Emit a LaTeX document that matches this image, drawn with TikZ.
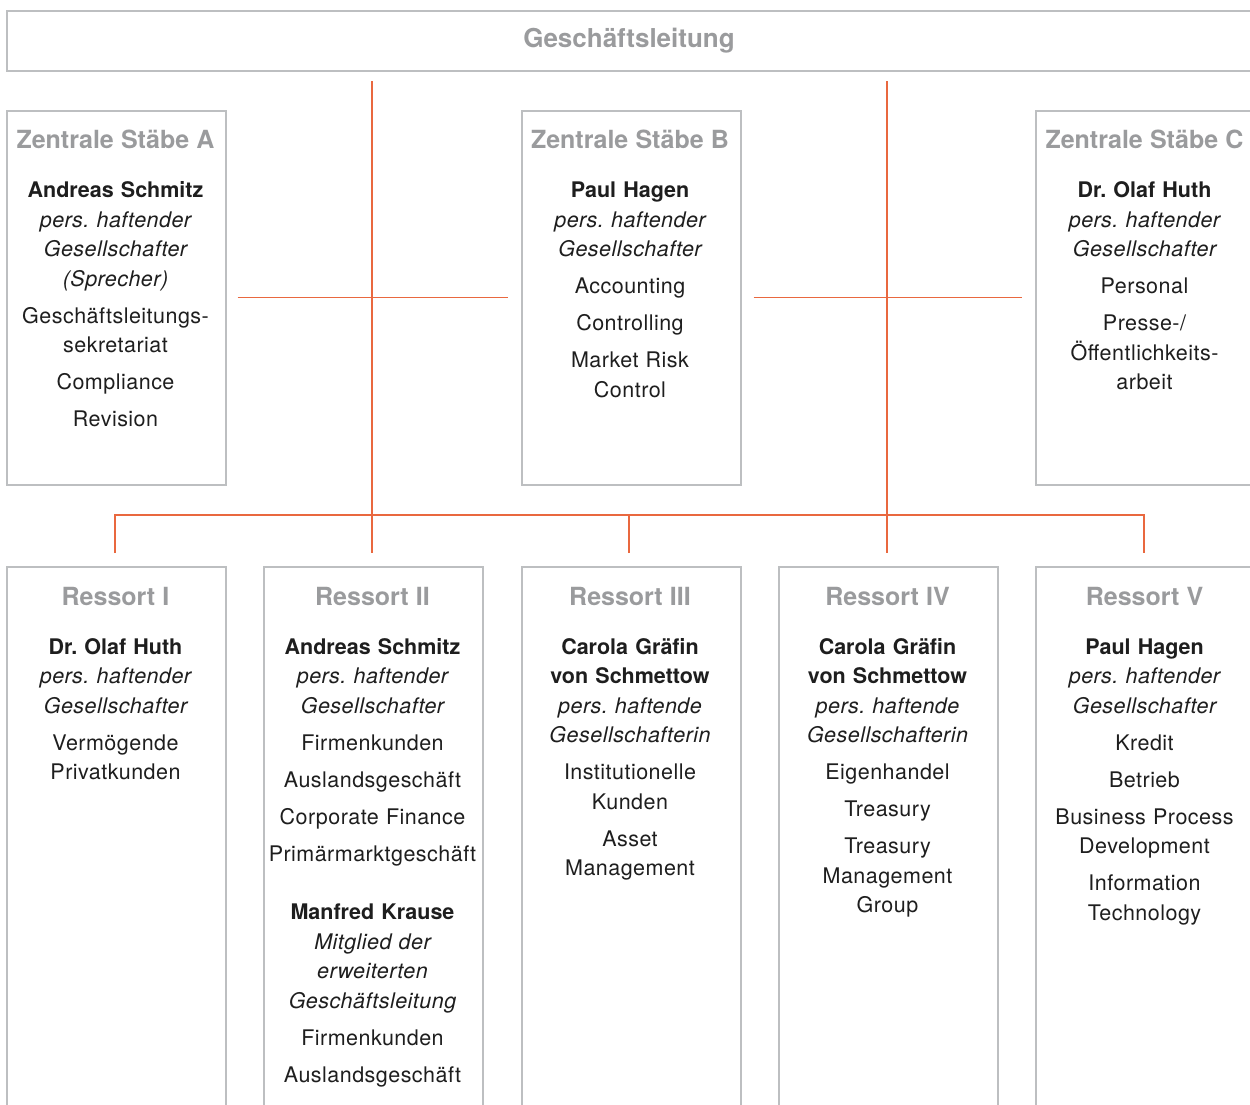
\documentclass[tikz,border=0pt]{standalone}
\usepackage{fontspec}
\setmainfont{TeX Gyre Heros}[LetterSpace = 2.2, BoldFeatures = {LetterSpace = 0}]
\usepackage{tikz}
\usetikzlibrary{positioning}
\frenchspacing
\definecolor{framegray}{HTML}{BDBFC1}
\definecolor{titlegray}{HTML}{9A9B9D}
\definecolor{linkorange}{HTML}{E9683F}
\definecolor{textdark}{HTML}{1E1E1E}
\tikzset{
frame box/.style = { rectangle, draw = framegray, line width = 1.5pt, fill = white, inner sep = 0pt, minimum width = 219pt },
box text/.style = { anchor = north, align = center, text width = 215pt, inner sep = 0pt, text = textdark, font = \fontsize{21.5}{29.5}\selectfont },
link/.style = { draw = linkorange, line width = 1.2pt },
}
\newcommand{\boxtitle}[1]{{\fontsize{25}{29.5}\selectfont\bfseries\color{titlegray}#1}}
\newcommand{\who}[1]{{\bfseries #1}}
\newcommand{\role}[1]{{\itshape #1}}

\begin{document}
\begin{tikzpicture}[x = 1pt, y = -1pt]
      \path[use as bounding box] (0, 0) rectangle (1250, 1104);
      \clip (0, 0) rectangle (1250, 1104);
      % Geschaeftsleitung
      \node[frame box, minimum width = 1250pt, minimum height = 60pt, anchor = north west] (gl) at (6, 10) {};
      \node[font = \fontsize{26}{30}\selectfont\bfseries, text = titlegray, inner sep = 0pt] (gl title) at (629, 41) {Geschäftsleitung};
      % Zentrale Staebe
      \node[frame box, minimum height = 374pt, anchor = north west] (zsa) at (6, 110) {};
      \node[frame box, minimum height = 374pt, anchor = north west] (zsb) at (521, 110) {};
      \node[frame box, minimum height = 374pt, anchor = north west] (zsc) at (1035, 110) {};
      % Ressorts
      \node[frame box, minimum height = 560pt, anchor = north west] (r1) at (6, 566) {};
      \node[frame box, minimum height = 560pt, anchor = north west] (r2) at (263, 566) {};
      \node[frame box, minimum height = 560pt, anchor = north west] (r3) at (521, 566) {};
      \node[frame box, minimum height = 560pt, anchor = north west] (r4) at (778, 566) {};
      \node[frame box, minimum height = 560pt, anchor = north west] (r5) at (1035, 566) {};
      % orange lines
      \coordinate (split l) at (372, 81);
      \coordinate (split r) at (887, 81);
      \coordinate (drop i) at (115, 553);
      \coordinate (drop ii) at (372, 553);
      \coordinate (drop iii) at (629, 553);
      \coordinate (drop iv) at (887, 553);
      \coordinate (drop v) at (1144, 553);
      \draw[link] (split l) -- (drop ii);
      \draw[link] (split r) -- (drop iv);
      \draw[link] ([xshift = 11pt]zsa.east) -- ([xshift = -13pt]zsb.west);
      \draw[link] ([xshift = 12pt]zsb.east) -- ([xshift = -13pt]zsc.west);
      \draw[link] (drop i) -- (drop i |- 0, 515) -- (drop v |- 0, 515) -- (drop v);
      \draw[link] (drop iii) -- (drop iii |- 0, 515);
      % texts
      \node[box text] (zsa text) at (115.5, 130) {\boxtitle{Zentrale Stäbe A}\\[19.5pt]
            \who{Andreas Schmitz}\\ \role{pers. haftender}\\ \role{Gesellschafter}\\ \role{(Sprecher)}\\[7.5pt]
            Geschäftsleitungs-\\ sekretariat\\[7.5pt] Compliance\\[7.5pt] Revision};
      \node[box text] (zsb text) at (630, 130) {\boxtitle{Zentrale Stäbe B}\\[19.5pt]
            \who{Paul Hagen}\\ \role{pers. haftender}\\ \role{Gesellschafter}\\[7.5pt]
            Accounting\\[7.5pt] Controlling\\[7.5pt] Market Risk\\ Control};
      \node[box text] (zsc text) at (1144.5, 130) {\boxtitle{Zentrale Stäbe C}\\[19.5pt]
            \who{Dr. Olaf Huth}\\ \role{pers. haftender}\\ \role{Gesellschafter}\\[7.5pt]
            Personal\\[7.5pt] Presse-/\\ Öffentlichkeits-\\ arbeit};
      \node[box text] (r1 text) at (115.5, 587) {\boxtitle{Ressort I}\\[19.5pt]
            \who{Dr. Olaf Huth}\\ \role{pers. haftender}\\ \role{Gesellschafter}\\[7.5pt]
            Vermögende\\ Privatkunden};
      \node[box text] (r2 text) at (372.5, 587) {\boxtitle{Ressort II}\\[19.5pt]
            \who{Andreas Schmitz}\\ \role{pers. haftender}\\ \role{Gesellschafter}\\[7.5pt]
            Firmenkunden\\[7.5pt] Auslandsgeschäft\\[7.5pt] Corporate Finance\\[7.5pt] Primärmarktgeschäft\\[29pt]
            \who{Manfred Krause}\\ \role{Mitglied der}\\ \role{erweiterten}\\ \role{Geschäftsleitung}\\[7.5pt]
            Firmenkunden\\[7.5pt] Auslandsgeschäft};
      \node[box text] (r3 text) at (630, 587) {\boxtitle{Ressort III}\\[19.5pt]
            \who{Carola Gräfin}\\ \who{von Schmettow}\\ \role{pers. haftende}\\ \role{Gesellschafterin}\\[7.5pt]
            Institutionelle\\ Kunden\\[7.5pt] Asset\\ Management};
      \node[box text] (r4 text) at (887.5, 587) {\boxtitle{Ressort IV}\\[19.5pt]
            \who{Carola Gräfin}\\ \who{von Schmettow}\\ \role{pers. haftende}\\ \role{Gesellschafterin}\\[7.5pt]
            Eigenhandel\\[7.5pt] Treasury\\[7.5pt] Treasury\\ Management\\ Group};
      \node[box text] (r5 text) at (1144.5, 587) {\boxtitle{Ressort V}\\[19.5pt]
            \who{Paul Hagen}\\ \role{pers. haftender}\\ \role{Gesellschafter}\\[7.5pt]
            Kredit\\[7.5pt] Betrieb\\[7.5pt] Business Process\\ Development\\[7.5pt] Information\\ Technology};
\end{tikzpicture}
\end{document}
